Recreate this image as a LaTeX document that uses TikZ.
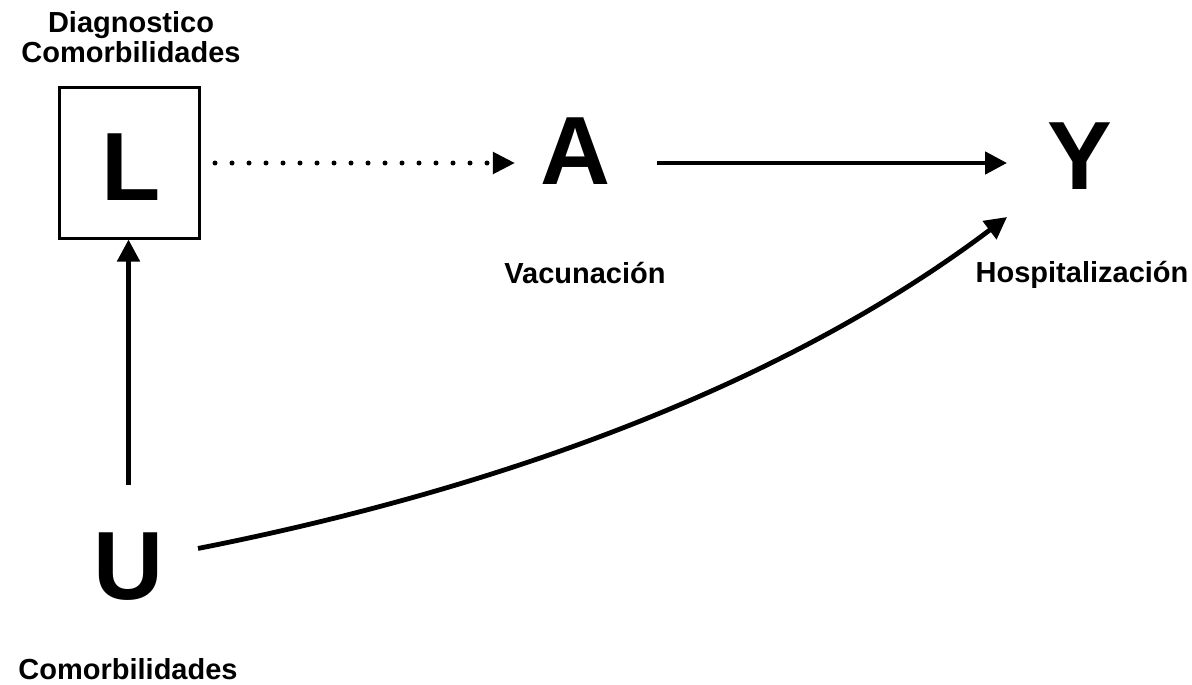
\documentclass[tikz,border=0pt]{standalone}
\usepackage{fontspec}
\setmainfont{Liberation Sans}
\usetikzlibrary{arrows.meta}
\tikzset{
  letter/.style={font=\fontsize{97}{97}\selectfont\bfseries, inner sep=0pt, outer sep=0pt},
  lbl/.style={font=\fontsize{29}{30}\selectfont\bfseries, inner sep=0pt, anchor=base},
  arr/.style={line width=4.8pt, -{Triangle[length=22pt,width=22pt]}},
  dotarr/.style={line width=5pt, line cap=round, dash pattern=on 0pt off 17pt,
    -{Triangle[length=22pt,width=21pt]}},
}
\begin{document}
\begin{tikzpicture}[x=1pt, y=-1pt]
  \useasboundingbox (0,0) rectangle (1192,685);

  % variables
  \node[draw, line width=3pt, minimum width=140pt, minimum height=150pt,
        inner sep=0pt, outer sep=0pt] (Lbox) at (129,163) {};
  \node[letter, anchor=base] (L) at (131,200) {L};
  \node[letter, text height=69pt, text depth=27pt] (A) at (576,163) {A};
  \node[letter, text height=70pt, text depth=18pt] (Y) at (1080,163) {Y};
  \node[letter, anchor=base, text height=71pt] (U) at (128.5,599) {U};

  % labels
  \node[lbl] (diag1) at (131,33) {Diagnostico};
  \node[lbl] (diag2) at (131,63) {Comorbilidades};
  \node[lbl] (vac) at (585,283) {Vacunación};
  \node[lbl] (hosp) at (1082,282) {Hospitalización};
  \node[lbl] (ucom) at (128,679) {Comorbilidades};

  % edges
  \draw[dotarr, shorten <=16pt, shorten >=26pt] (Lbox.east) -- (Lbox.east -| A.west);
  \draw[arr, shorten <=46pt, shorten >=40.6pt] (A) -- (Y);
  \draw[arr, shorten <=43pt, shorten >=1.5pt] (U.north) -- (U.north |- Lbox.south);
  \draw[arr] ([shift={(34.5pt,15.5pt)}]U.east)
    .. controls (484,492) and (775,392) .. ([shift={(-40.6pt,-54pt)}]Y.west);
\end{tikzpicture}
\end{document}
